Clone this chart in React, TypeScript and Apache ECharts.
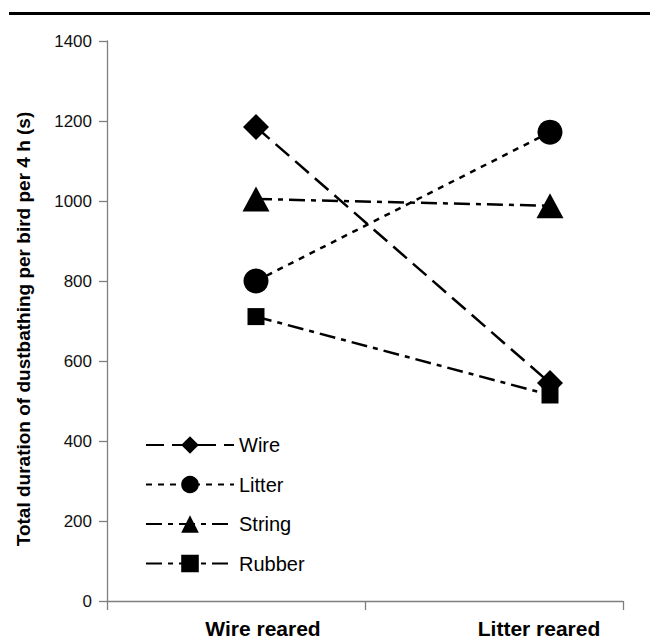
import React, { useEffect, useRef } from "react";
import * as echarts from "echarts";

const categories = ["Wire reared", "Litter reared"];
const seriesNames = ["Wire", "Litter", "String", "Rubber"];
const wireValues = [1185, 545];
const litterValues = [800, 1172];
const stringValues = [1005, 988];
const rubberValues = [711, 515];
const yMin = 0;
const yMax = 1400;
const yInterval = 200;
const yTitle = "Total duration of dustbathing per bird per 4 h (s)";

const FONT = "'Liberation Sans', Arial, sans-serif";

export default function App() {
  const ref = useRef<HTMLDivElement>(null);
  useEffect(() => {
    if (!ref.current) return;
    const chart = echarts.init(ref.current, undefined, { renderer: "svg" });
    const lineBase = { color: "#000", width: 2.5 };
    const mk = (
      name: string,
      data: number[],
      symbol: string,
      size: number | number[],
      dash: number[]
    ) => ({
      name,
      type: "line",
      xAxisIndex: 1,
      yAxisIndex: 1,
      data,
      symbol,
      symbolSize: size,
      showAllSymbol: true,
      itemStyle: { color: "#000" },
      lineStyle: { ...lineBase, type: dash },
      emphasis: { disabled: true },
    });
    const hiddenY = {
      type: "value",
      min: yMin,
      max: yMax,
      interval: yInterval,
      show: false,
    };
    chart.setOption({
      animation: false,
      textStyle: { fontFamily: FONT },
      grid: [
        { left: 107, right: 27, top: 41, bottom: 39 },
        { left: 256, right: 100, top: 41, bottom: 39 },
        { left: 263, right: 111, top: 41, bottom: 39 },
      ],
      xAxis: [
        {
          gridIndex: 0,
          type: "category",
          data: categories,
          boundaryGap: true,
          axisLine: { show: true, lineStyle: { color: "#7f7f7f", width: 1.3 } },
          axisTick: { show: true, length: 9, lineStyle: { color: "#7f7f7f", width: 1.3 } },
          axisLabel: { show: false },
        },
        {
          gridIndex: 1,
          type: "category",
          data: categories,
          boundaryGap: false,
          show: false,
        },
        {
          gridIndex: 2,
          type: "category",
          data: categories,
          boundaryGap: false,
          axisLine: { show: false },
          axisTick: { show: false },
          axisLabel: {
            show: true,
            interval: 0,
            margin: 17,
            color: "#000",
            fontSize: 21,
            fontWeight: "bold",
            fontFamily: FONT,
          },
        },
      ],
      yAxis: [
        {
          gridIndex: 0,
          type: "value",
          min: yMin,
          max: yMax,
          interval: yInterval,
          name: yTitle,
          nameLocation: "middle",
          nameGap: 74,
          nameTextStyle: {
            color: "#000",
            fontSize: 19,
            fontWeight: "bold",
            fontFamily: FONT,
            padding: [0, 16, 0, 0],
          },
          axisLine: { show: true, lineStyle: { color: "#7f7f7f", width: 1.3 } },
          axisTick: { show: true, length: 8, lineStyle: { color: "#7f7f7f", width: 1.3 } },
          axisLabel: {
            color: "#111",
            fontSize: 17,
            margin: 15,
            fontFamily: FONT,
            formatter: (v: number) => String(v),
          },
          splitLine: { show: false },
        },
        { ...hiddenY, gridIndex: 1 },
        { ...hiddenY, gridIndex: 2 },
      ],
      legend: {
        orient: "vertical",
        left: 145,
        top: 435,
        padding: 0,
        itemWidth: 88,
        itemHeight: 22,
        itemGap: 19.5,
        data: seriesNames,
        textStyle: { color: "#000", fontSize: 20, fontFamily: FONT },
        selectedMode: false,
      },
      graphic: [
        {
          type: "line",
          shape: { x1: 9, y1: 13.5, x2: 650, y2: 13.5 },
          style: { stroke: "#000", lineWidth: 3 },
        },
      ],
      series: [
        mk(seriesNames[0], wireValues, "diamond", 26, [18, 8]),
        mk(seriesNames[1], litterValues, "circle", 25, [6, 6]),
        mk(seriesNames[2], stringValues, "triangle", [27, 25], [16, 6, 5, 6]),
        mk(seriesNames[3], rubberValues, "rect", 17, [16, 6, 5, 6]),
      ],
    });
    return () => chart.dispose();
  }, []);
  return (
    <div
      ref={ref}
      style={{ position: "absolute", left: 0, top: 0, width: 650, height: 640, background: "#fff" }}
    />
  );
}
